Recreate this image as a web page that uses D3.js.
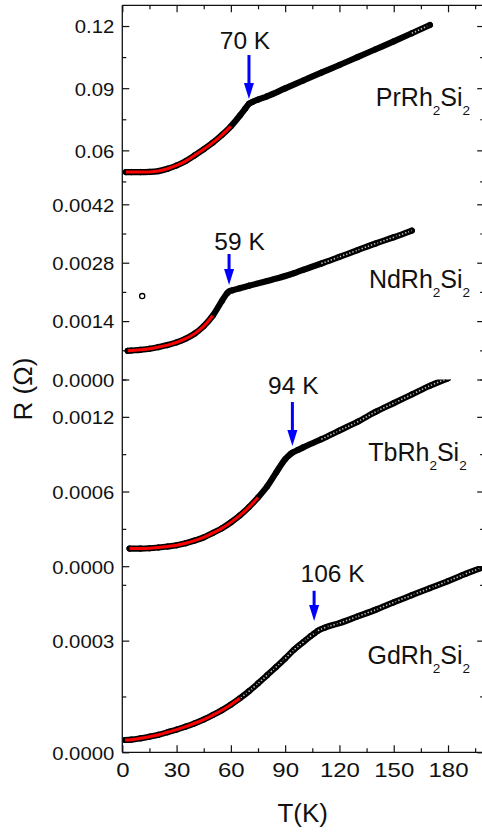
<!DOCTYPE html>
<html>
<head>
<meta charset="utf-8">
<script src="https://cdn.jsdelivr.net/npm/d3@7"></script>
<style>
  html, body { margin: 0; padding: 0; background: #fff; }
  svg { display: block; font-family: "Liberation Sans", Arial, sans-serif; }
</style>
</head>
<body>
<svg id="chart" width="482" height="832"></svg>
<script>
// ---- Temperature axis ----
const xTicks = [0, 30, 60, 90, 120, 150, 180];
const xMinorTicks = [15, 45, 75, 105, 135, 165, 195];

// ---- Panels, top to bottom ----
const compounds = ["Pr", "Nd", "Tb", "Gd"];
const transitionT = [70, 59, 94, 106];
const rDomains = [[0.04, 0.13], [0, 0.0045], [0, 0.0015], [0, 0.0005]];
const rTicks = [[0.06, 0.09, 0.12], [0, 0.0014, 0.0028, 0.0042], [0, 0.0006, 0.0012], [0, 0.0003]];
const rMinorTicks = [[0.045, 0.075, 0.105], [0.0007, 0.0021, 0.0035], [0.0003, 0.0009, 0.0015], [0.00015, 0.00045]];
const rTickFormats = [".2f", ".4f", ".4f", ".4f"];

// ---- Measured resistance R(T) ----
const prT = [2, 5, 10, 15, 20, 25, 30, 35, 40, 45, 50, 55, 60, 65, 68, 70, 72, 75, 80, 90, 100, 110, 120, 130, 140, 150, 160, 170];
const prR = [0.0495, 0.0495, 0.0495, 0.0496, 0.0500, 0.0511, 0.0527, 0.0548, 0.0576, 0.0605, 0.0637, 0.0674, 0.0716, 0.0768, 0.0802, 0.0825, 0.0834, 0.0845, 0.0861, 0.0899, 0.0937, 0.0975, 0.1012, 0.1050, 0.1088, 0.1126, 0.1165, 0.1205];

const ndT = [3, 5, 10, 15, 20, 25, 30, 35, 40, 45, 50, 55, 58, 59, 61, 65, 70, 80, 90, 95, 100, 110, 120, 130, 140, 150, 160];
const ndR = [0.000688, 0.000695, 0.000712, 0.000736, 0.000777, 0.000825, 0.000889, 0.000978, 0.00110, 0.00128, 0.00153, 0.00188, 0.00207, 0.00211, 0.00214, 0.00219, 0.00225, 0.00236, 0.00248, 0.00255, 0.00263, 0.00278, 0.00294, 0.00310, 0.00326, 0.00341, 0.00357];
const ndStrayT = [11];
const ndStrayR = [0.00200];

const tbT = [4, 10, 15, 20, 25, 30, 35, 40, 45, 50, 55, 60, 65, 70, 75, 80, 85, 90, 93, 94, 97, 100, 110, 120, 130, 140, 150, 160, 170, 180];
const tbR = [0.000142, 0.000142, 0.000144, 0.000150, 0.000158, 0.000168, 0.000184, 0.000206, 0.000232, 0.000267, 0.000304, 0.000352, 0.000408, 0.000475, 0.000552, 0.000640, 0.000752, 0.000859, 0.000902, 0.000912, 0.000934, 0.000955, 0.00102, 0.00109, 0.00116, 0.00124, 0.00131, 0.00138, 0.00145, 0.00151];

const gdT = [1.5, 5, 10, 15, 20, 25, 30, 35, 40, 45, 50, 55, 60, 65, 70, 75, 80, 85, 90, 95, 100, 104, 106, 108, 112, 120, 130, 140, 150, 160, 170, 180, 190, 198];
const gdR = [3.3e-5, 3.4e-5, 3.75e-5, 4.2e-5, 4.7e-5, 5.4e-5, 6.1e-5, 6.9e-5, 7.8e-5, 8.8e-5, 0.000100, 0.000113, 0.000128, 0.000145, 0.000164, 0.000185, 0.000207, 0.000229, 0.000252, 0.000276, 0.000296, 0.000312, 0.000319, 0.000326, 0.000335, 0.000347, 0.000365, 0.000383, 0.000403, 0.000422, 0.000441, 0.000460, 0.000480, 0.000495];

// Upper temperature of each low-T fit (red curve)
const fitMaxT = [61, 51, 75, 65];
// Above these temperatures the symbols are sparse enough to show as open circles
const openFromT = [158, 108, 105, 50];

// ---- Annotations (data units of each panel) ----
const arrowTailR = [0.1060, 0.003009, 0.001319, 0.000434];
const arrowTipR = [0.0848, 0.002266, 0.000966, 0.000353];
const labelT = [67.8, 64.8, 94.5, 116.2];
const labelR = [0.1089, 0.003105, 0.001383, 0.000458];
const nameT = [192.2, 192.2, 190.3, 192.2];
const nameR = [0.0814, 0.002186, 0.000845, 0.000237];

const seriesT = [prT, ndT, tbT, gdT];
const seriesR = [prR, ndR, tbR, gdR];

// ---- Layout ----
const W = 482, H = 832;
const plotLeft = 122.3, plotRight = 484.2;
const bounds = [5.3, 191.8, 379.5, 566.2, 752.3];   // panel edges, top to bottom
const plotTop = bounds[0], plotBottom = bounds[4];
const majorLen = 7, minorLen = 4;
const ink = "#111";

const svg = d3.select("#chart");
svg.append("rect").attr("width", W).attr("height", H).attr("fill", "#fff");

const x = d3.scaleLinear().domain([0, 200]).range([plotLeft, plotRight]);
const yScales = rDomains.map((dom, i) =>
  d3.scaleLinear().domain(dom).range([bounds[i + 1], bounds[i]]));

const defs = svg.append("defs");

function styleAxis(g) {
  g.select(".domain").remove();
  g.selectAll(".tick line").attr("stroke", ink).attr("stroke-width", 1.2);
}

// ---- Panels ----
yScales.forEach((y, i) => {
  const clipId = "clip" + i;
  defs.append("clipPath").attr("id", clipId)
    .append("rect")
    .attr("x", plotLeft + 0.6).attr("y", bounds[i])
    .attr("width", plotRight - plotLeft).attr("height", bounds[i + 1] - bounds[i]);

  // left ticks + labels
  const gl = svg.append("g").attr("transform", `translate(${plotLeft},0)`)
    .call(d3.axisLeft(y).tickValues(rTicks[i]).tickSize(-majorLen).tickPadding(8)
      .tickFormat(d3.format(rTickFormats[i])));
  styleAxis(gl);
  gl.selectAll(".tick text")
    .attr("font-size", 19).attr("fill", ink)
    .attr("font-family", "Liberation Sans, Arial, sans-serif")
    .attr("x", -8 / 1.07).attr("dy", "0.36em")
    .attr("transform", "scale(1.07,1)");

  const glm = svg.append("g").attr("transform", `translate(${plotLeft},0)`)
    .call(d3.axisLeft(y).tickValues(rMinorTicks[i]).tickSize(-minorLen).tickFormat(""));
  styleAxis(glm);

  // right ticks (mirror)
  const gr = svg.append("g").attr("transform", `translate(${plotRight},0)`)
    .call(d3.axisRight(y).tickValues(rTicks[i]).tickSize(-majorLen).tickFormat(""));
  styleAxis(gr);
  const grm = svg.append("g").attr("transform", `translate(${plotRight},0)`)
    .call(d3.axisRight(y).tickValues(rMinorTicks[i]).tickSize(-minorLen).tickFormat(""));
  styleAxis(grm);

  const data = seriesT[i].map((t, k) => ({ t, r: seriesR[i][k] }));
  const line = d3.line().x(d => x(d.t)).y(d => y(d.r)).curve(d3.curveMonotoneX);

  const pg = svg.append("g").attr("clip-path", `url(#${clipId})`);

  // dense measurement points form a continuous band of symbols
  pg.append("path").datum(data)
    .attr("d", line)
    .attr("fill", "none")
    .attr("stroke", "#000")
    .attr("stroke-width", 6.2)
    .attr("stroke-linecap", "round")
    .attr("stroke-linejoin", "round");

  // open-circle texture where the symbols thin out
  pg.append("path").datum(data.filter(d => d.t >= openFromT[i]))
    .attr("d", line)
    .attr("fill", "none")
    .attr("stroke", "#fff")
    .attr("stroke-opacity", 0.75)
    .attr("stroke-width", 1.6)
    .attr("stroke-dasharray", "1.4 1.9");

  pg.selectAll("circle.pt").data(data).join("circle")
    .attr("class", "pt")
    .attr("cx", d => x(d.t)).attr("cy", d => y(d.r))
    .attr("r", 2.7)
    .attr("fill", "none").attr("stroke", "#000").attr("stroke-width", 1);

  if (i === 1) {
    pg.selectAll("circle.stray").data(ndStrayT.map((t, k) => ({ t, r: ndStrayR[k] })))
      .join("circle").attr("class", "stray")
      .attr("cx", d => x(d.t)).attr("cy", d => y(d.r))
      .attr("r", 2.6).attr("fill", "#fff").attr("stroke", "#000").attr("stroke-width", 1.3);
  }

  // low-temperature fit
  pg.append("path").datum(data.filter(d => d.t <= fitMaxT[i]))
    .attr("d", line)
    .attr("fill", "none")
    .attr("stroke", "#ff0000")
    .attr("stroke-width", 3)
    .attr("stroke-linecap", "butt");

  // transition arrow
  const ax = x(transitionT[i]);
  const yTail = y(arrowTailR[i]), yTip = y(arrowTipR[i]);
  const headH = 16, headW = 10;
  svg.append("line")
    .attr("x1", ax).attr("x2", ax)
    .attr("y1", yTail).attr("y2", yTip - headH + 1)
    .attr("stroke", "#0000ff").attr("stroke-width", 3);
  svg.append("path")
    .attr("d", `M${ax - headW / 2},${yTip - headH} L${ax + headW / 2},${yTip - headH} L${ax},${yTip} Z`)
    .attr("fill", "#0000ff");

  svg.append("text")
    .attr("x", x(labelT[i])).attr("y", y(labelR[i]))
    .attr("text-anchor", "middle")
    .attr("font-size", 24.5).attr("fill", ink)
    .text(transitionT[i] + " K");

  // compound name with subscripts
  const nt = svg.append("text")
    .attr("x", x(nameT[i])).attr("y", y(nameR[i]))
    .attr("text-anchor", "end")
    .attr("font-size", 25).attr("fill", ink);
  nt.append("tspan").text(compounds[i] + "Rh");
  nt.append("tspan").attr("font-size", 13.5).attr("dy", 9).text("2");
  nt.append("tspan").attr("dy", -9).text("Si");
  nt.append("tspan").attr("font-size", 13.5).attr("dy", 9).text("2");
});

// ---- Temperature axes ----
const gb = svg.append("g").attr("transform", `translate(0,${plotBottom})`)
  .call(d3.axisBottom(x).tickValues(xTicks).tickSize(-majorLen).tickFormat(d3.format("d")));
styleAxis(gb);
gb.selectAll(".tick text")
  .attr("font-size", 20).attr("fill", ink)
  .attr("font-family", "Liberation Sans, Arial, sans-serif")
  .attr("y", 25).attr("dy", null)
  .attr("transform", "scale(1.2,1)");
const gbm = svg.append("g").attr("transform", `translate(0,${plotBottom})`)
  .call(d3.axisBottom(x).tickValues(xMinorTicks).tickSize(-minorLen).tickFormat(""));
styleAxis(gbm);

const gt = svg.append("g").attr("transform", `translate(0,${plotTop})`)
  .call(d3.axisTop(x).tickValues(xTicks).tickSize(-majorLen).tickFormat(""));
styleAxis(gt);
const gtm = svg.append("g").attr("transform", `translate(0,${plotTop})`)
  .call(d3.axisTop(x).tickValues(xMinorTicks).tickSize(-minorLen).tickFormat(""));
styleAxis(gtm);

// ---- Frame ----
svg.append("line").attr("x1", plotLeft).attr("x2", plotLeft)
  .attr("y1", plotTop).attr("y2", plotBottom).attr("stroke", ink).attr("stroke-width", 1.3);
svg.append("line").attr("x1", plotRight).attr("x2", plotRight)
  .attr("y1", plotTop).attr("y2", plotBottom).attr("stroke", ink).attr("stroke-width", 1.3);
svg.append("line").attr("x1", plotLeft).attr("x2", plotRight)
  .attr("y1", plotTop).attr("y2", plotTop).attr("stroke", ink).attr("stroke-width", 1.3);
svg.append("line").attr("x1", plotLeft).attr("x2", plotRight)
  .attr("y1", plotBottom).attr("y2", plotBottom).attr("stroke", ink).attr("stroke-width", 1.3);

// ---- Axis titles ----
svg.append("text")
  .attr("x", (plotLeft + plotRight) / 2 - 0.5).attr("y", 821.7)
  .attr("text-anchor", "middle").attr("font-size", 26).attr("fill", ink)
  .text("T(K)");
svg.append("text")
  .attr("transform", "translate(32,389) rotate(-90)")
  .attr("text-anchor", "middle").attr("font-size", 26).attr("fill", ink)
  .text("R (Ω)");
</script>
</body>
</html>
